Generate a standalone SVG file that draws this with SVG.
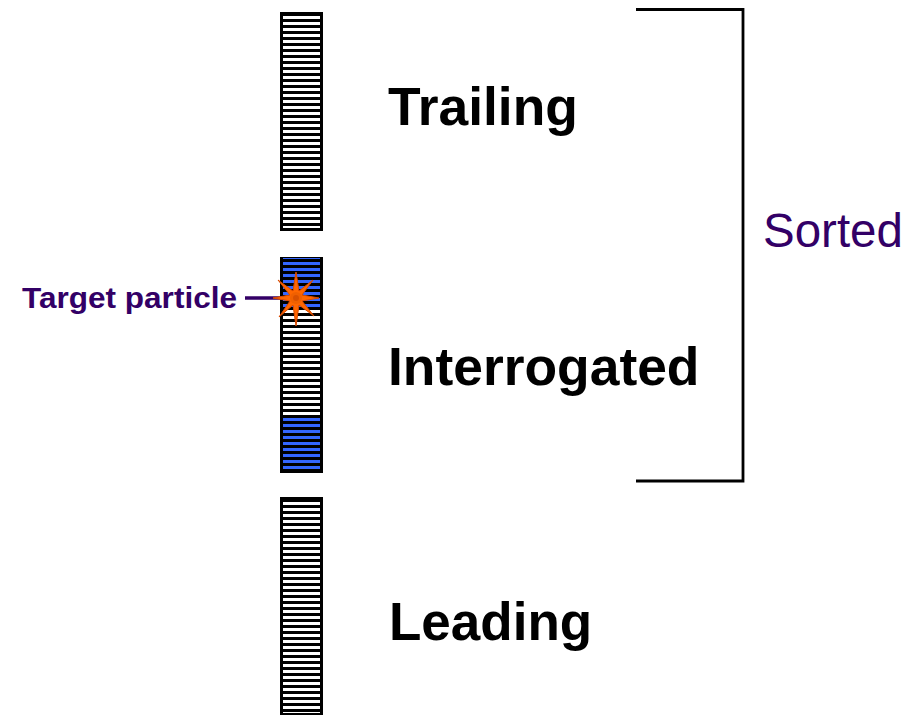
<svg xmlns="http://www.w3.org/2000/svg" width="920" height="716" viewBox="0 0 920 716">
<style>
.lbl{font-family:"Liberation Sans",Arial,sans-serif;font-weight:bold;fill:#000}
.col{fill:#000}
</style>
<defs>
<pattern id="wstripe" x="0" y="13" width="50" height="6" patternUnits="userSpaceOnUse">
<rect x="0" y="3" width="50" height="3" fill="#fff"/>
</pattern>
<pattern id="bstripe" x="0" y="13" width="50" height="6" patternUnits="userSpaceOnUse">
<rect x="0" y="3" width="50" height="3.2" fill="#3366ff"/>
</pattern>
</defs>
<rect width="920" height="716" fill="#fff"/>
<g id="trailing-column">
<rect class="col" x="280" y="12" width="43" height="219"/>
<rect x="283" y="15" width="37" height="213" fill="url(#wstripe)"/>
</g>
<g id="interrogated-column">
<rect class="col" x="280" y="257" width="43" height="216"/>
<rect x="283" y="258" width="37" height="51" fill="url(#bstripe)"/>
<rect x="283" y="309" width="37" height="109" fill="url(#wstripe)"/>
<rect x="283" y="418" width="37" height="52" fill="url(#bstripe)"/>
</g>
<g id="leading-column">
<rect class="col" x="280" y="497" width="43" height="218"/>
<rect x="283" y="500" width="37" height="213" fill="url(#wstripe)"/>
</g>
<g id="trailing-label"><text class="lbl" x="388" y="125" font-size="53.4">Trailing</text></g>
<g id="interrogated-label"><text class="lbl" x="388" y="385" font-size="53.4">Interrogated</text></g>
<g id="leading-label"><text class="lbl" x="389" y="640" font-size="53">Leading</text></g>
<g id="sorted-label"><text x="763" y="247" font-family="Liberation Sans,Arial,sans-serif" font-size="47.5" fill="#330066">Sorted</text></g>
<g id="target-label"><text x="22" y="308" font-family="Liberation Sans,Arial,sans-serif" font-weight="bold" font-size="30" fill="#330066" textLength="215" lengthAdjust="spacingAndGlyphs">Target particle</text></g>
<g id="connectors">
<polyline points="636,9.5 743,9.5 743,481 636,481" fill="none" stroke="#000" stroke-width="2.8"/>
<line x1="245" y1="298" x2="292" y2="298" stroke="#330066" stroke-width="3.5"/>
</g>
<g id="star">
<polygon points="296,272 299,291 313,280 302,295 319,298 302,301 314,316 299,305 296,326 293,305 279,317 290,301 273,298 290,295 278,280 293,291" fill="#ff6600" stroke="#d94a00" stroke-width="1"/>
<circle cx="296" cy="298" r="6" fill="#f06000"/>
<circle cx="296" cy="298" r="3" fill="#d95000"/>
</g>
</svg>
